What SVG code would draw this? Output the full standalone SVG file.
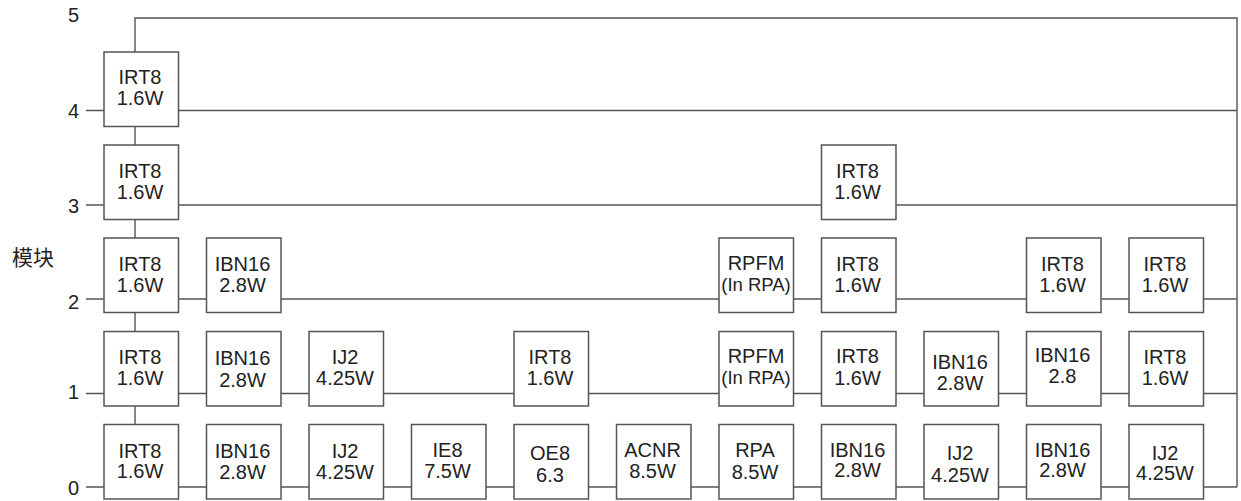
<svg xmlns="http://www.w3.org/2000/svg" width="1241" height="501" viewBox="0 0 1241 501">
<style>
.bg{fill:#fff}
.box{fill:#fff;stroke:#555;stroke-width:1.5}
.c{fill:none;stroke:#555;stroke-width:1.4}
.t{font-family:"Liberation Sans",Arial,sans-serif;font-size:20px;fill:#222;text-anchor:middle}
.s{font-size:18.5px}
.ax{font-family:"Liberation Sans",Arial,sans-serif;font-size:20px;fill:#222;text-anchor:end}
.cjk{font-family:"Liberation Sans","Noto Sans CJK SC",sans-serif;font-size:21px;fill:#222}
</style>
<rect class="bg" x="0" y="0" width="1241" height="501"/>
<g id="axis">
<text class="ax" x="79" y="22">5</text>
<text class="ax" x="79" y="118">4</text>
<text class="ax" x="79" y="213">3</text>
<text class="ax" x="79" y="309">2</text>
<text class="ax" x="79" y="399">1</text>
<text class="ax" x="79" y="495">0</text>
<text class="cjk" x="12" y="265">模块</text>
</g>
<g id="connectors" class="c">
<path d="M135 52V18H1237V487"/>
<path d="M135 126.5V145M135 219.5V238M135 312.5V331.5M135 406V424.5"/>
<path d="M86 110.5H104M178.5 110.5H1237"/>
<path d="M86 205H104M178.5 205H821.5M896 205H1237"/>
<path d="M86 299H104M178.5 299H206.5M281 299H719M793.5 299H821.5M896 299H1026.5M1101 299H1129M1203.5 299H1237"/>
<path d="M86 393.5H104M178.5 393.5H206.5M281 393.5H309M383.5 393.5H514M588.5 393.5H719M793.5 393.5H821.5M896 393.5H924M998.5 393.5H1026.5M1101 393.5H1129M1203.5 393.5H1237"/>
<path d="M86 487H104M178.5 487H206.5M281 487H309M383.5 487H411.5M486 487H514M588.5 487H616.5M691 487H719M793.5 487H821.5M896 487H924M998.5 487H1026.5M1101 487H1129M1203.5 487H1237"/>
</g>
<!-- row 4 -->
<g id="r4c0"><rect class="box" x="104" y="52" width="74.5" height="74.5"/><text class="t" x="140" y="84">IRT8</text><text class="t" x="140" y="105">1.6W</text></g>
<!-- row 3 -->
<g id="r3c0"><rect class="box" x="104" y="145" width="74.5" height="74.5"/><text class="t" x="140" y="177.5">IRT8</text><text class="t" x="140" y="198.5">1.6W</text></g>
<g id="r3c7"><rect class="box" x="821.5" y="145" width="74.5" height="74.5"/><text class="t" x="857.5" y="177.5">IRT8</text><text class="t" x="857.5" y="198.5">1.6W</text></g>
<!-- row 2 -->
<g id="r2c0"><rect class="box" x="104" y="238" width="74.5" height="74.5"/><text class="t" x="140" y="270.5">IRT8</text><text class="t" x="140" y="291.5">1.6W</text></g>
<g id="r2c1"><rect class="box" x="206.5" y="238" width="74.5" height="74.5"/><text class="t" x="242.5" y="270.5">IBN16</text><text class="t" x="242.5" y="291.5">2.8W</text></g>
<g id="r2c6"><rect class="box" x="719" y="238" width="74.5" height="74.5"/><text class="t" x="756" y="270">RPFM</text><text class="t s" x="756" y="290.5">(In RPA)</text></g>
<g id="r2c7"><rect class="box" x="821.5" y="238" width="74.5" height="74.5"/><text class="t" x="857.5" y="271">IRT8</text><text class="t" x="857.5" y="291.5">1.6W</text></g>
<g id="r2c9"><rect class="box" x="1026.5" y="238" width="74.5" height="74.5"/><text class="t" x="1062.5" y="271">IRT8</text><text class="t" x="1062.5" y="291.5">1.6W</text></g>
<g id="r2c10"><rect class="box" x="1129" y="238" width="74.5" height="74.5"/><text class="t" x="1165" y="271">IRT8</text><text class="t" x="1165" y="291.5">1.6W</text></g>
<!-- row 1 -->
<g id="r1c0"><rect class="box" x="104" y="331.5" width="74.5" height="74.5"/><text class="t" x="140" y="364">IRT8</text><text class="t" x="140" y="385">1.6W</text></g>
<g id="r1c1"><rect class="box" x="206.5" y="331.5" width="74.5" height="74.5"/><text class="t" x="242.5" y="365">IBN16</text><text class="t" x="242.5" y="386.5">2.8W</text></g>
<g id="r1c2"><rect class="box" x="309" y="331.5" width="74.5" height="74.5"/><text class="t" x="345" y="364">IJ2</text><text class="t" x="345" y="385">4.25W</text></g>
<g id="r1c4"><rect class="box" x="514" y="331.5" width="74.5" height="74.5"/><text class="t" x="550" y="363.5">IRT8</text><text class="t" x="550" y="385">1.6W</text></g>
<g id="r1c6"><rect class="box" x="719" y="331.5" width="74.5" height="74.5"/><text class="t" x="756" y="363">RPFM</text><text class="t s" x="756" y="383.5">(In RPA)</text></g>
<g id="r1c7"><rect class="box" x="821.5" y="331.5" width="74.5" height="74.5"/><text class="t" x="857.5" y="363">IRT8</text><text class="t" x="857.5" y="384.5">1.6W</text></g>
<g id="r1c8"><rect class="box" x="924" y="331.5" width="74.5" height="74.5"/><text class="t" x="960" y="368.5">IBN16</text><text class="t" x="960" y="389.5">2.8W</text></g>
<g id="r1c9"><rect class="box" x="1026.5" y="331.5" width="74.5" height="74.5"/><text class="t" x="1062.5" y="362">IBN16</text><text class="t" x="1062.5" y="383">2.8</text></g>
<g id="r1c10"><rect class="box" x="1129" y="331.5" width="74.5" height="74.5"/><text class="t" x="1165" y="363.5">IRT8</text><text class="t" x="1165" y="384.5">1.6W</text></g>
<!-- row 0 -->
<g id="r0c0"><rect class="box" x="104" y="424.5" width="74.5" height="74.5"/><text class="t" x="140" y="457.5">IRT8</text><text class="t" x="140" y="478">1.6W</text></g>
<g id="r0c1"><rect class="box" x="206.5" y="424.5" width="74.5" height="74.5"/><text class="t" x="242.5" y="457.5">IBN16</text><text class="t" x="242.5" y="478.5">2.8W</text></g>
<g id="r0c2"><rect class="box" x="309" y="424.5" width="74.5" height="74.5"/><text class="t" x="345" y="457.5">IJ2</text><text class="t" x="345" y="478.5">4.25W</text></g>
<g id="r0c3"><rect class="box" x="411.5" y="424.5" width="74.5" height="74.5"/><text class="t" x="447.5" y="456.5">IE8</text><text class="t" x="447.5" y="477.5">7.5W</text></g>
<g id="r0c4"><rect class="box" x="514" y="424.5" width="74.5" height="74.5"/><text class="t" x="550" y="460">OE8</text><text class="t" x="550" y="481.5">6.3</text></g>
<g id="r0c5"><rect class="box" x="616.5" y="424.5" width="74.5" height="74.5"/><text class="t" x="652.5" y="456.5">ACNR</text><text class="t" x="652.5" y="477.5">8.5W</text></g>
<g id="r0c6"><rect class="box" x="719" y="424.5" width="74.5" height="74.5"/><text class="t" x="755" y="457">RPA</text><text class="t" x="755" y="478.5">8.5W</text></g>
<g id="r0c7"><rect class="box" x="821.5" y="424.5" width="74.5" height="74.5"/><text class="t" x="857.5" y="456.5">IBN16</text><text class="t" x="857.5" y="477">2.8W</text></g>
<g id="r0c8"><rect class="box" x="924" y="424.5" width="74.5" height="74.5"/><text class="t" x="960" y="460">IJ2</text><text class="t" x="960" y="481.5">4.25W</text></g>
<g id="r0c9"><rect class="box" x="1026.5" y="424.5" width="74.5" height="74.5"/><text class="t" x="1062.5" y="456.5">IBN16</text><text class="t" x="1062.5" y="477">2.8W</text></g>
<g id="r0c10"><rect class="box" x="1129" y="424.5" width="74.5" height="74.5"/><text class="t" x="1165" y="459.5">IJ2</text><text class="t" x="1165" y="480">4.25W</text></g>
</svg>
